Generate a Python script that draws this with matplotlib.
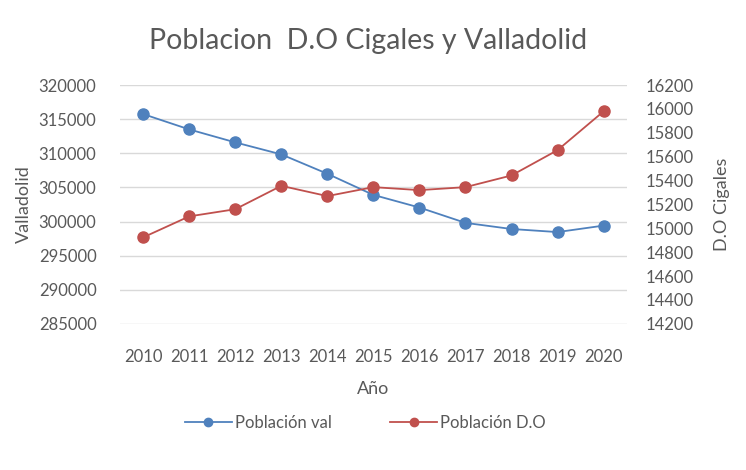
import matplotlib.pyplot as plt

# Datos
anios = ['2010', '2011', '2012', '2013', '2014', '2015', '2016', '2017', '2018', '2019', '2020']
poblacion_val = [315750, 313500, 311600, 309840, 307000, 303900, 302050, 299800, 298900, 298450, 299400]
poblacion_do = [14924, 15100, 15160, 15356, 15270, 15345, 15320, 15345, 15443, 15655, 15980]

gris = '#595959'
azul = '#4F81BD'
rojo = '#C0504D'

plt.rcParams['font.family'] = ['Lato', 'DejaVu Sans']

fig = plt.figure(figsize=(7.46, 4.70), dpi=100)
ax = fig.add_axes([0.161, 0.311, 0.679, 0.508])
ax2 = ax.twinx()

x = range(len(anios))
l1, = ax.plot(x, poblacion_val, color=azul, linewidth=1.3, marker='o', markersize=8, label='Población val')
l2, = ax2.plot(x, poblacion_do, color=rojo, linewidth=1.3, marker='o', markersize=8, label='Población D.O')

ax.set_xlim(-0.5, len(anios) - 0.5)
ax.set_ylim(285000, 320000)
ax.set_yticks(range(285000, 320001, 5000))
ax2.set_ylim(14200, 16200)
ax2.set_yticks(range(14200, 16201, 200))
ax.set_xticks(list(x))
ax.set_xticklabels(anios)

# Cuadricula y ejes al estilo Excel
ax.grid(True, axis='y', color='#D9D9D9', linewidth=1)
ax.set_axisbelow(True)
for a in (ax, ax2):
    for s in a.spines.values():
        s.set_visible(False)
    a.tick_params(length=0, colors=gris, labelsize=12)
ax.tick_params(axis='y', pad=17)
ax2.tick_params(axis='y', pad=14)
ax.tick_params(axis='x', pad=18)

ax.set_xlabel('Año', fontsize=13, color=gris, labelpad=12)
ax.set_ylabel('Valladolid', fontsize=13, color=gris, labelpad=5)
ax2.set_ylabel('D.O Cigales', fontsize=13, color=gris, labelpad=14)

fig.suptitle('Poblacion  D.O Cigales y Valladolid', fontsize=20.5, color=gris, x=0.494, y=0.94)

fig.legend(handles=[l1, l2], loc='center', bbox_to_anchor=(0.49, 0.1), ncol=2, frameon=False,
           fontsize=12, labelcolor=gris, handlelength=2.8, columnspacing=3.5, handletextpad=0.2,
           markerscale=0.75)

fig.savefig('out.png', dpi=100)
